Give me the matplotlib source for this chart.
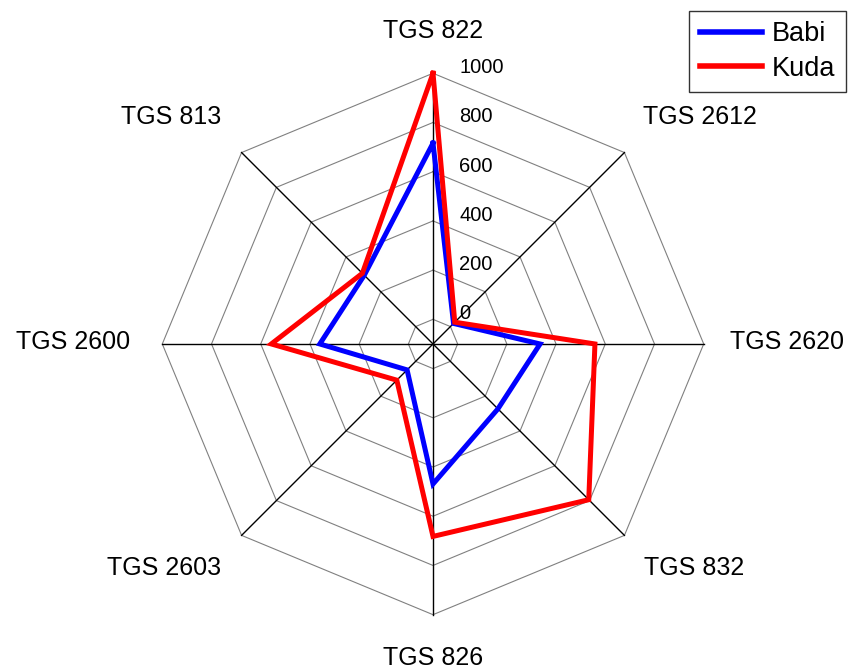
import numpy as np
import matplotlib
matplotlib.use("Agg")
import matplotlib.pyplot as plt

plt.rcParams['font.family'] = ['Liberation Sans', 'DejaVu Sans']

# ---- data ----
categories = ['TGS 822', 'TGS 2612', 'TGS 2620', 'TGS 832',
              'TGS 826', 'TGS 2603', 'TGS 2600', 'TGS 813']
babi = [716, 18, 335, 273, 469, 49, 360, 295]
kuda = [1000, 25, 558, 795, 682, 108, 557, 306]
series_names = ['Babi', 'Kuda']
radial_ticks = [0, 200, 400, 600, 800, 1000]
r_min, r_max = -100, 1000

# ---- layout for category labels (pixel offsets from outer vertex) ----
label_offsets = [(0, 35), (19, 29), (26, -5), (20, -40),
                 (0, -50), (-20, -40), (-32, -5), (-20, 29)]
label_ha = ['center', 'left', 'left', 'left',
            'center', 'right', 'right', 'right']

fig = plt.figure(figsize=(8.56, 6.69), dpi=100)
ax = fig.add_axes([0.1896, 0.0812, 0.6325, 0.8093], projection='polar')
ax.set_theta_zero_location('N')
ax.set_theta_direction(-1)
ax.set_ylim(r_min, r_max)
ax.grid(False)
ax.spines['polar'].set_visible(False)
ax.set_xticks([])
ax.set_yticks([])

n = len(categories)
angles = np.linspace(0, 2 * np.pi, n, endpoint=False)
ang_closed = np.append(angles, angles[0])

# octagonal rings
for v in radial_ticks:
    ax.plot(ang_closed, [v] * (n + 1), color='#808080', lw=0.8,
            clip_on=False, zorder=1)
# spokes
for a in angles:
    ax.plot([a, a], [r_min, r_max], color='black', lw=1.0,
            clip_on=False, zorder=2)

# data
ax.plot(ang_closed, babi + babi[:1], color='#0000ff', lw=3.6,
        label=series_names[0], clip_on=False, zorder=3,
        solid_joinstyle='miter')
ax.plot(ang_closed, kuda + kuda[:1], color='#ff0000', lw=3.6,
        label=series_names[1], clip_on=False, zorder=4,
        solid_joinstyle='miter')

# radial tick labels
for v in radial_ticks:
    ax.annotate(str(v), xy=(0, v), xytext=(26, 0),
                textcoords='offset pixels', ha='left', va='baseline',
                fontsize=14.5, color='black', annotation_clip=False)

# category labels
for a, lab, off, ha in zip(angles, categories, label_offsets, label_ha):
    ax.annotate(lab, xy=(a, r_max), xytext=off,
                textcoords='offset pixels', ha=ha, va='baseline',
                fontsize=18, color='black', annotation_clip=False)

leg = fig.legend(loc='upper right', bbox_to_anchor=(0.988, 0.984),
                 borderaxespad=0, fontsize=19.5, frameon=True,
                 fancybox=False, shadow=False, handlelength=2.3,
                 handletextpad=0.35, labelspacing=0.32, borderpad=0.39)
leg.get_frame().set_edgecolor('black')
leg.get_frame().set_linewidth(1.0)
for line in leg.get_lines():
    line.set_linewidth(4.0)

fig.savefig('out.png', dpi=100)
